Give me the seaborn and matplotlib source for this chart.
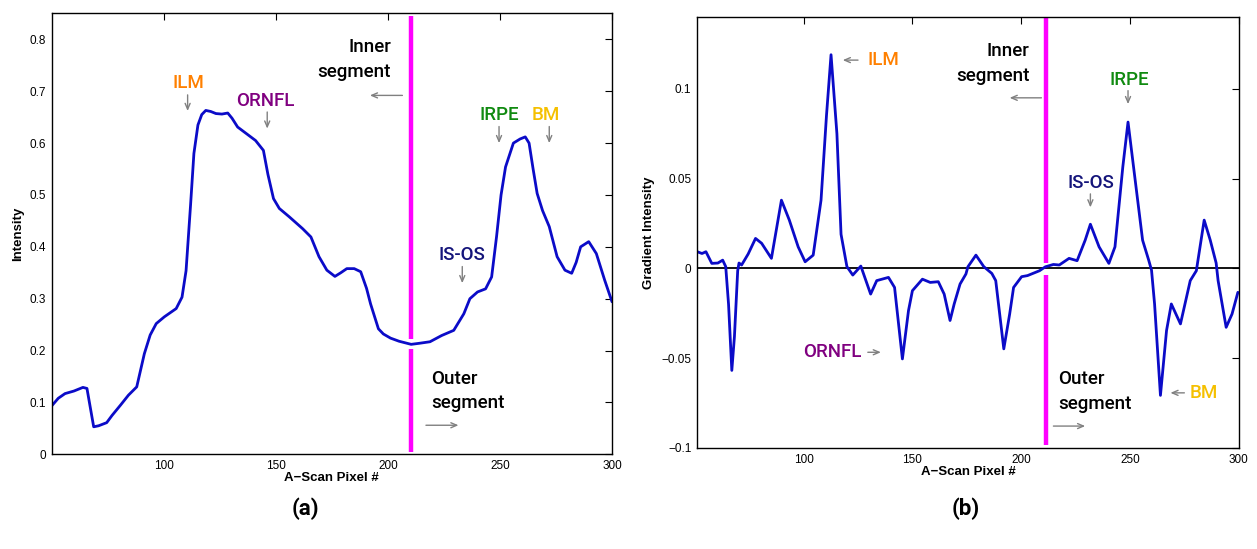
import matplotlib
matplotlib.use("Agg")
import matplotlib.pyplot as plt
import seaborn as sns
import pandas as pd

# ---------------- data ----------------
pixel_a = [50, 53, 56, 60, 64, 65.8, 67.5, 68.8, 71, 74.6, 77, 80.8, 84.3, 88, 91.4, 94, 96.7,
           100.3, 105.6, 108.2, 110, 112, 113.5, 115.3, 117, 118.8, 121, 123.3, 126, 128.6, 130.5,
           133, 137, 141, 144.5, 146.5, 149, 151.6, 156, 162, 165.7, 169.3, 172.8, 176.4, 179,
           181.7, 185, 187.9, 190.5, 192.3, 195.8, 198, 201.2, 205, 210.4, 214, 218.8, 224, 229.4,
           233.9, 236.6, 240, 243.6, 246.3, 248.5, 250.5, 252.5, 256, 259, 261.3, 263, 264.8,
           266.6, 269, 272, 275.5, 279, 282, 284, 286, 289.6, 293, 296.7, 300]
intensity = [0.093, 0.108, 0.117, 0.122, 0.129, 0.127, 0.085, 0.053, 0.055, 0.061, 0.075, 0.095,
             0.114, 0.130, 0.194, 0.230, 0.252, 0.265, 0.281, 0.303, 0.354, 0.480, 0.580, 0.635,
             0.655, 0.663, 0.661, 0.657, 0.656, 0.658, 0.648, 0.631, 0.618, 0.605, 0.586, 0.540,
             0.493, 0.474, 0.458, 0.435, 0.419, 0.381, 0.355, 0.343, 0.350, 0.358, 0.358, 0.352,
             0.320, 0.290, 0.242, 0.232, 0.224, 0.218, 0.212, 0.214, 0.217, 0.229, 0.239, 0.271,
             0.300, 0.313, 0.319, 0.342, 0.420, 0.500, 0.554, 0.600, 0.608, 0.612, 0.600, 0.550,
             0.503, 0.470, 0.439, 0.381, 0.355, 0.349, 0.370, 0.400, 0.410, 0.387, 0.336, 0.294]

pixel_b = [51.1, 53.3, 55.1, 57.8, 60.6, 62.8, 64.2, 65.5, 67.0, 68.2, 69.7, 70.3, 71.5, 74.5,
           77.9, 80.7, 85.2, 89.8, 93.4, 97.5, 100.7, 104.4, 108.0, 110.5, 112.6, 115.3, 117.2,
           119.9, 122.6, 126.3, 128.0, 130.8, 133.6, 139.0, 141.8, 145.4, 148.2, 150.0, 154.6,
           158.2, 161.9, 164.6, 167.3, 169.2, 171.9, 174.6, 175.5, 179.2, 182.8, 186.5, 188.3,
           192.0, 194.7, 196.5, 200.2, 202.9, 208.4, 211.1, 214.8, 217.5, 222.0, 225.7, 229.4,
           231.8, 235.8, 240.3, 243.1, 246.7, 249.1, 252.2, 255.8, 258.6, 259.9, 261.3, 264.0,
           266.8, 269.0, 273.2, 277.7, 280.5, 284.1, 286.9, 289.6, 290.5, 294.2, 296.9, 299.6]
gradient = [0.0093, 0.0083, 0.0093, 0.0028, 0.0030, 0.0046, 0.0010, -0.0200, -0.0568, -0.0380,
            -0.0013, 0.0030, 0.0019, 0.0080, 0.0167, 0.0140, 0.0056, 0.0380, 0.0270, 0.0120,
            0.0037, 0.0074, 0.0380, 0.0850, 0.1190, 0.0750, 0.0190, 0.0010, -0.0037, 0.0013,
            -0.0046, -0.0143, -0.0068, -0.0050, -0.0106, -0.0504, -0.0235, -0.0124, -0.0060,
            -0.0078, -0.0074, -0.0143, -0.0290, -0.0198, -0.0087, -0.0031, 0.0009, 0.0074,
            0.0010, -0.0028, -0.0068, -0.0448, -0.0254, -0.0106, -0.0046, -0.0040, -0.0013,
            0.0009, 0.0022, 0.0019, 0.0056, 0.0043, 0.0157, 0.0246, 0.0120, 0.0028, 0.0120,
            0.0565, 0.0815, 0.0510, 0.0157, 0.0046, -0.0010, -0.0198, -0.0707, -0.0346, -0.0198,
            -0.0309, -0.0068, -0.0013, 0.0269, 0.0157, 0.0030, -0.0068, -0.0328, -0.0254, -0.0133]

x_ticks = [100, 150, 200, 250, 300]
yticks_a = [0, 0.1, 0.2, 0.3, 0.4, 0.5, 0.6, 0.7, 0.8]
yticklabels_a = ["0", "0.1", "0.2", "0.3", "0.4", "0.5", "0.6", "0.7", "0.8"]
yticks_b = [-0.1, -0.05, 0, 0.05, 0.1]
yticklabels_b = ["\u22120.1", "\u22120.05", "0", "0.05", "0.1"]

boundary_a = 210.4
boundary_b = 211.5

df_a = pd.DataFrame({"pixel": pixel_a, "intensity": intensity})
df_b = pd.DataFrame({"pixel": pixel_b, "gradient": gradient})

# ---------------- style ----------------
sns.set_theme(style="white")
plt.rcParams["font.family"] = ["Liberation Sans", "DejaVu Sans"]
plt.rcParams["text.color"] = "black"
NARROW = ["Roboto", "DejaVu Sans"]
ANN_FS = 13.5
ANN_W = "medium"

BLUE = "#0b0bc8"
MAGENTA = "#ff00ff"
GRAY = "#808080"
ORANGE = "#ff8000"
PURPLE = "#800080"
GREEN = "#108a10"
GOLD = "#f5c000"
NAVY = "#14147a"

fig = plt.figure(figsize=(12.57, 5.49), dpi=100)
ax1 = fig.add_axes([0.041, 0.1725, 0.4459, 0.803])
ax2 = fig.add_axes([0.5545, 0.184, 0.431, 0.785])


def style_axes(ax):
    for s in ax.spines.values():
        s.set_color("black")
        s.set_linewidth(1.0)
    ax.tick_params(direction="in", top=True, right=True, length=5, width=0.8,
                   labelsize=8.5, colors="black", pad=4)


def arrow(ax, x0, y0, x1, y1):
    ax.annotate("", xy=(x1, y1), xytext=(x0, y0),
                arrowprops=dict(arrowstyle="->,head_length=0.35,head_width=0.15",
                                color=GRAY, lw=1.0, shrinkA=0, shrinkB=0))


def label(ax, x, y, s, color, ha="center"):
    ax.text(x, y, s, color=color, fontsize=ANN_FS, family=NARROW, fontweight=ANN_W,
            ha=ha, va="center")


def note(ax, x, y, s, ha):
    ax.text(x, y, s, color="black", fontsize=ANN_FS, family=NARROW, fontweight=ANN_W,
            ha=ha, va="center")


# ---------------- panel (a) ----------------
ax1.plot([boundary_a, boundary_a], [0.005, 0.203], color=MAGENTA, lw=3.2, solid_capstyle="butt")
ax1.plot([boundary_a, boundary_a], [0.223, 0.846], color=MAGENTA, lw=3.2, solid_capstyle="butt")
sns.lineplot(data=df_a, x="pixel", y="intensity", ax=ax1, color=BLUE, lw=2.0, sort=False)
ax1.set_xlim(50, 300)
ax1.set_ylim(0, 0.85)
ax1.set_xticks(x_ticks)
ax1.set_xticklabels([str(t) for t in x_ticks])
ax1.set_yticks(yticks_a)
ax1.set_yticklabels(yticklabels_a)
ax1.set_xlabel("A\u2212Scan Pixel #", fontsize=9.5, fontweight="bold", labelpad=0,
               color="black")
ax1.set_ylabel("Intensity", fontsize=9.5, fontweight="bold", labelpad=4, color="black")
style_axes(ax1)

note(ax1, 201.5, 0.785, "Inner", "right")
note(ax1, 201.5, 0.737, "segment", "right")
arrow(ax1, 206.5, 0.692, 192, 0.692)
note(ax1, 219.5, 0.146, "Outer", "left")
note(ax1, 219.5, 0.098, "segment", "left")
arrow(ax1, 217, 0.056, 231.5, 0.056)

label(ax1, 110.9, 0.715, "ILM", ORANGE)
arrow(ax1, 110.7, 0.693, 110.7, 0.662)
label(ax1, 145.4, 0.682, "ORNFL", PURPLE)
arrow(ax1, 146.2, 0.66, 146.2, 0.628)
label(ax1, 249.8, 0.654, "IRPE", GREEN)
arrow(ax1, 249.6, 0.632, 249.6, 0.6)
label(ax1, 270.5, 0.654, "BM", GOLD)
arrow(ax1, 272, 0.632, 272, 0.6)
label(ax1, 233.0, 0.384, "IS-OS", NAVY)
arrow(ax1, 233.2, 0.362, 233.2, 0.33)

# ---------------- panel (b) ----------------
ax2.axhline(0, color="black", lw=1.3, zorder=1)
ax2.plot([boundary_b, boundary_b], [0.0028, 0.14], color=MAGENTA, lw=3.2, solid_capstyle="butt")
ax2.plot([boundary_b, boundary_b], [-0.0985, -0.0035], color=MAGENTA, lw=3.2, solid_capstyle="butt")
sns.lineplot(data=df_b, x="pixel", y="gradient", ax=ax2, color=BLUE, lw=2.0, sort=False)
ax2.set_xlim(51, 300)
ax2.set_ylim(-0.1, 0.14)
ax2.set_xticks(x_ticks)
ax2.set_xticklabels([str(t) for t in x_ticks])
ax2.set_yticks(yticks_b)
ax2.set_yticklabels(yticklabels_b)
ax2.set_xlabel("A\u2212Scan Pixel #", fontsize=9.5, fontweight="bold", labelpad=0,
               color="black")
ax2.set_ylabel("Gradient Intensity", fontsize=9.5, fontweight="bold", labelpad=5,
               color="black")
style_axes(ax2)

note(ax2, 203.8, 0.121, "Inner", "right")
note(ax2, 203.8, 0.107, "segment", "right")
arrow(ax2, 209.3, 0.095, 194.7, 0.095)
note(ax2, 217.2, -0.0615, "Outer", "left")
note(ax2, 217.2, -0.0754, "segment", "left")
arrow(ax2, 214.8, -0.0878, 229.4, -0.0878)

arrow(ax2, 125, 0.116, 118, 0.116)
label(ax2, 129.5, 0.116, "ILM", ORANGE, ha="left")
label(ax2, 249.8, 0.105, "IRPE", GREEN)
arrow(ax2, 249.1, 0.099, 249.1, 0.0915)
label(ax2, 232.0, 0.0476, "IS-OS", NAVY)
arrow(ax2, 231.8, 0.0415, 231.8, 0.034)
label(ax2, 126.5, -0.0467, "ORNFL", PURPLE, ha="right")
arrow(ax2, 129.5, -0.0467, 135.5, -0.0467)
arrow(ax2, 275, -0.0693, 268.6, -0.0693)
label(ax2, 277.5, -0.0693, "BM", GOLD, ha="left")

# ---------------- panel letters ----------------
fig.text(0.2426, 0.073, "(a)", fontsize=16, fontweight="bold", ha="center", va="center",
         family=NARROW, color="black")
fig.text(0.7685, 0.073, "(b)", fontsize=16, fontweight="bold", ha="center", va="center",
         family=NARROW, color="black")

fig.savefig("out.png", dpi=100, facecolor="white")
